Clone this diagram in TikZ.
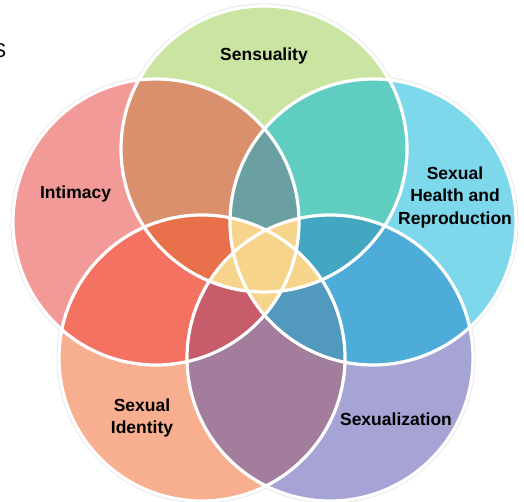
\documentclass[tikz,border=0pt]{standalone}
\usepackage{fontspec}
\setmainfont{Liberation Sans}
\definecolor{cT}{HTML}{CAE5A1}
\definecolor{cL}{HTML}{F29A97}
\definecolor{cR}{HTML}{7DD8EC}
\definecolor{cBL}{HTML}{F8AF8F}
\definecolor{cBR}{HTML}{A6A3D5}
\definecolor{cTL}{HTML}{DA8F6D}
\definecolor{cTR}{HTML}{5FCDBF}
\definecolor{cLBL}{HTML}{F47262}
\definecolor{cRBR}{HTML}{4DADD8}
\definecolor{cBLBR}{HTML}{A27E9C}
\definecolor{cTLR}{HTML}{6BA0A3}
\definecolor{cTLBL}{HTML}{E8704A}
\definecolor{cTRBR}{HTML}{43A7C1}
\definecolor{cLBLBR}{HTML}{C75C6A}
\definecolor{cRBLBR}{HTML}{5199BD}
\definecolor{cCore}{HTML}{F6D48B}
\tikzset{
  label text/.style={font=\bfseries\fontsize{17.5}{22.5}\selectfont, text=black, align=center, inner sep=0pt},
  ring edge/.style={draw=white, line width=3.2pt},
  ring halo/.style={draw=black!9, line width=5pt}
}
\begin{document}
\begin{tikzpicture}[x=1pt,y=-1pt]
\useasboundingbox (0,0) rectangle (524,502);
\def\rad{143pt}
% circle centres
\coordinate (T) at (264,149);
\coordinate (L) at (156,222);
\coordinate (R) at (373,222);
\coordinate (BL) at (202,358);
\coordinate (BR) at (330,358);

% soft halo round the outer rim
\foreach \c in {T,L,R,BL,BR} \draw[ring halo] (\c) circle[radius=\rad];

% single circles
\fill[cT] (T) circle[radius=\rad];
\fill[cL] (L) circle[radius=\rad];
\fill[cR] (R) circle[radius=\rad];
\fill[cBL] (BL) circle[radius=\rad];
\fill[cBR] (BR) circle[radius=\rad];

% overlaps of neighbouring pairs
\begin{scope}\clip (T) circle[radius=\rad]; \fill[cTL] (L) circle[radius=\rad];\end{scope}
\begin{scope}\clip (T) circle[radius=\rad]; \fill[cTR] (R) circle[radius=\rad];\end{scope}
\begin{scope}\clip (L) circle[radius=\rad]; \fill[cLBL] (BL) circle[radius=\rad];\end{scope}
\begin{scope}\clip (R) circle[radius=\rad]; \fill[cRBR] (BR) circle[radius=\rad];\end{scope}
\begin{scope}\clip (BL) circle[radius=\rad]; \fill[cBLBR] (BR) circle[radius=\rad];\end{scope}

% overlaps of three
\begin{scope}\clip (L) circle[radius=\rad]; \clip (R) circle[radius=\rad]; \fill[cTLR] (T) circle[radius=\rad];\end{scope}
\begin{scope}\clip (T) circle[radius=\rad]; \clip (BL) circle[radius=\rad]; \fill[cTLBL] (L) circle[radius=\rad];\end{scope}
\begin{scope}\clip (T) circle[radius=\rad]; \clip (BR) circle[radius=\rad]; \fill[cTRBR] (R) circle[radius=\rad];\end{scope}
\begin{scope}\clip (L) circle[radius=\rad]; \clip (BR) circle[radius=\rad]; \fill[cLBLBR] (BL) circle[radius=\rad];\end{scope}
\begin{scope}\clip (R) circle[radius=\rad]; \clip (BL) circle[radius=\rad]; \fill[cRBLBR] (BR) circle[radius=\rad];\end{scope}

% centre: four or five circles
\begin{scope}\clip (T) circle[radius=\rad]; \clip (L) circle[radius=\rad]; \clip (R) circle[radius=\rad]; \fill[cCore] (BL) circle[radius=\rad];\end{scope}
\begin{scope}\clip (T) circle[radius=\rad]; \clip (L) circle[radius=\rad]; \clip (R) circle[radius=\rad]; \fill[cCore] (BR) circle[radius=\rad];\end{scope}
\begin{scope}\clip (T) circle[radius=\rad]; \clip (L) circle[radius=\rad]; \clip (BL) circle[radius=\rad]; \fill[cCore] (BR) circle[radius=\rad];\end{scope}
\begin{scope}\clip (T) circle[radius=\rad]; \clip (R) circle[radius=\rad]; \clip (BL) circle[radius=\rad]; \fill[cCore] (BR) circle[radius=\rad];\end{scope}
\begin{scope}\clip (L) circle[radius=\rad]; \clip (R) circle[radius=\rad]; \clip (BL) circle[radius=\rad]; \fill[cCore] (BR) circle[radius=\rad];\end{scope}

% white rims
\foreach \c in {T,L,R,BL,BR} \draw[ring edge] (\c) circle[radius=\rad];

% labels
\node[label text] (sens) at (264,56) {Sensuality};
\node[label text] (intim) at (75.5,194) {Intimacy};
\node[label text] (health) at (455,197) {Sexual\\Health and\\Reproduction};
\node[label text] (ident) at (142,418) {Sexual\\Identity};
\node[label text] (sexz) at (396,419) {Sexualization};

% heading letter cut by the left edge
\begin{scope}
\clip (0,0) rectangle (524,502);
\node[font=\fontsize{20}{24}\selectfont, inner sep=0pt, anchor=east] (head) at (6.5,50.5) {S};
\end{scope}
\end{tikzpicture}
\end{document}
